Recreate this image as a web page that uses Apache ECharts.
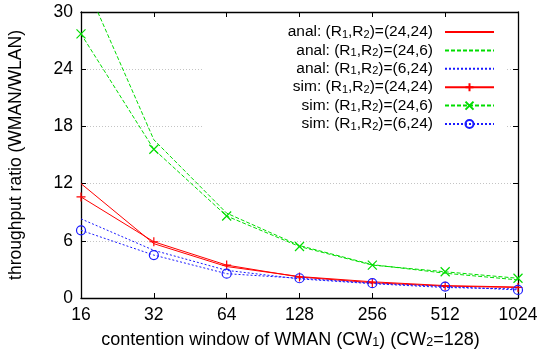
<!DOCTYPE html>
<html><head><meta charset="utf-8">
<script src="https://cdn.jsdelivr.net/npm/echarts@6/dist/echarts.min.js"></script>
<style>html,body{margin:0;padding:0;background:#fff}#c{width:541px;height:355px}</style>
</head><body><div id="c"></div>
<script>
// contention window of WMAN (x values, log2 axis)
const cw = [16, 32, 64, 128, 256, 512, 1024];
// analysis curves
const anal_24_24 = [12.0, 5.7, 3.3, 2.25, 1.7, 1.3, 1.15];
const anal_24_6  = [34.0, 16.6, 8.9, 5.5, 3.5, 2.6, 1.9];
const anal_6_24  = [8.3, 5.0, 2.9, 2.0, 1.5, 1.1, 0.95];
// simulation points
const sim_24_24 = [10.6, 5.9, 3.45, 2.2, 1.6, 1.25, 1.1];
const sim_24_6  = [27.7, 15.6, 8.6, 5.4, 3.45, 2.75, 2.07];
const sim_6_24  = [7.1, 4.5, 2.55, 2.07, 1.55, 1.2, 0.85];
// tick labels
const xTickLabels = ['16', '32', '64', '128', '256', '512', '1024'];
const yTicks = [0, 6, 12, 18, 24, 30];

const RED = '#ff0000', GREEN = '#00dd00', BLUE = '#1a1aff';
const FONT = 'Liberation Sans';
const pts = arr => cw.map((x, i) => [x, arr[i]]);

const names = [
  'anal: (R1,R2)=(24,24)', 'anal: (R1,R2)=(24,6)', 'anal: (R1,R2)=(6,24)',
  'sim: (R1,R2)=(24,24)', 'sim: (R1,R2)=(24,6)', 'sim: (R1,R2)=(6,24)'
];
const PLUS = 'path://M0,5L10,5M5,0L5,10';
const CROSS = 'path://M0,0L10,10M10,0L0,10';
const CLEAR = 'rgba(0,0,0,0)';

function lineSeries(name, data, color, type, symbol, size, fill) {
  return {
    name, type: 'line', data: pts(data),
    symbol: symbol || 'none', symbolSize: size || 0, showSymbol: !!symbol,
    lineStyle: { color, width: 1, type },
    itemStyle: symbol
      ? { color: fill || color, borderColor: color, borderWidth: 1.2 }
      : { color: CLEAR, borderColor: CLEAR, borderWidth: 0 },
    emphasis: { disabled: true }, animation: false, clip: true
  };
}

const series = [
  lineSeries(names[0], anal_24_24, RED, 'solid'),
  lineSeries(names[1], anal_24_6, GREEN, [4, 2]),
  lineSeries(names[2], anal_6_24, BLUE, [2, 2]),
  lineSeries(names[3], sim_24_24, RED, 'solid', PLUS, 9),
  lineSeries(names[4], sim_24_6, GREEN, [4, 2], CROSS, 9),
  lineSeries(names[5], sim_6_24, BLUE, [2, 2], 'circle', 9, CLEAR)
];

const sub = { fontSize: 11, fontFamily: FONT, color: '#000', verticalAlign: 'bottom', lineHeight: 11 };
const axisCommon = {
  axisLine: { show: true, onZero: false, lineStyle: { color: '#000', width: 1.3 } },
  axisTick: { show: true, inside: true, length: 5, lineStyle: { color: '#000', width: 1 } }
};

const chart = echarts.init(document.getElementById('c'), null, { renderer: 'canvas' });
chart.setOption({
  animation: false,
  backgroundColor: '#fff',
  grid: { left: 81, right: 23, top: 12, bottom: 57, containLabel: false, outerBoundsMode: 'none' },
  legend: {
    orient: 'vertical', align: 'right', right: 36, top: 20,
    padding: [4, 10, 4, 85], backgroundColor: '#fff',
    itemWidth: 49, itemHeight: 10, itemGap: 2.4,
    data: names, selectedMode: false,
    formatter: n => n.replace('R1', 'R{s|1}').replace('R2', 'R{s|2}'),
    textStyle: { fontSize: 15.5, fontFamily: FONT, color: '#000', lineHeight: 16, padding: [0, 7, 0, 0], rich: { s: sub } }
  },
  xAxis: [
    Object.assign({
      type: 'log', logBase: 2, min: 16, max: 1024, position: 'bottom',
      axisLabel: { fontSize: 17.5, fontFamily: FONT, color: '#000', margin: 8,
        formatter: v => xTickLabels[cw.indexOf(Math.round(v))] ?? '' },
      splitLine: { show: false }, minorTick: { show: false },
      name: 'contention window of WMAN (CW{s|1}) (CW{s|2}=128)',
      nameLocation: 'middle', nameGap: 33,
      nameTextStyle: { fontSize: 18, fontFamily: FONT, color: '#000', lineHeight: 18, padding: [0, 18, 0, 0],
        rich: { s: Object.assign({}, sub, { fontSize: 12.5, lineHeight: 12 }) } }
    }, axisCommon),
    Object.assign({
      type: 'log', logBase: 2, min: 16, max: 1024, position: 'top',
      axisLabel: { show: false }, splitLine: { show: false }
    }, axisCommon)
  ],
  yAxis: [
    Object.assign({
      type: 'value', min: yTicks[0], max: yTicks[yTicks.length - 1], interval: 6, position: 'left',
      axisLabel: { fontSize: 17.5, fontFamily: FONT, color: '#000', margin: 8 },
      splitLine: { show: true, lineStyle: { color: '#c4c4c4', width: 1, type: [1, 2] } },
      name: 'throughput ratio (WMAN/WLAN)', nameLocation: 'middle', nameGap: 56,
      nameTextStyle: { fontSize: 17.5, fontFamily: FONT, color: '#000' }
    }, axisCommon),
    Object.assign({
      type: 'value', min: yTicks[0], max: yTicks[yTicks.length - 1], interval: 6, position: 'right',
      axisLabel: { show: false }, splitLine: { show: false }
    }, axisCommon)
  ],
  series
});
</script></body></html>
